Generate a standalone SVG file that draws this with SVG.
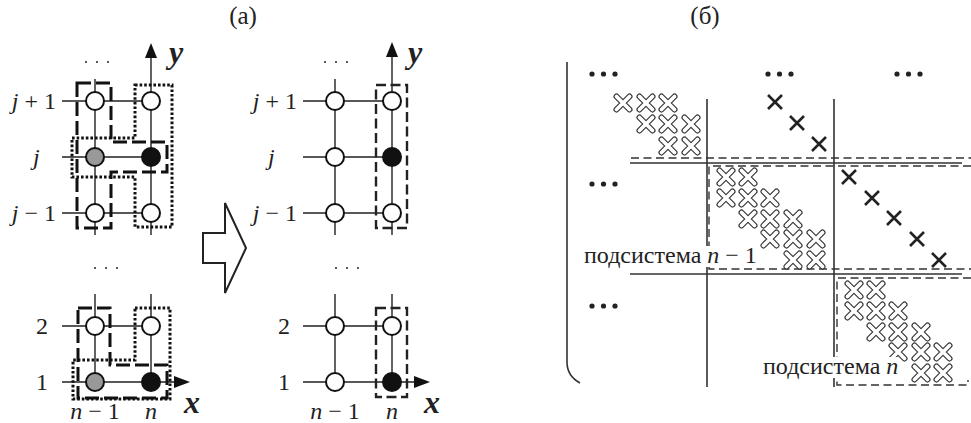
<svg xmlns="http://www.w3.org/2000/svg" xmlns:xlink="http://www.w3.org/1999/xlink" width="971" height="423" viewBox="0 0 971 423">
<style>
text{font-family:"Liberation Serif","Times New Roman",serif;fill:#222}
.lbl{font-size:24px}
.ttl{font-size:25px}
.ax{font-size:32px;font-weight:bold;font-style:italic}
.it{font-style:italic}
.g{stroke:#222;stroke-width:1.4;fill:none}
.nd{stroke:#111;stroke-width:2;fill:#fff}
.gray{fill:#999}
.blk{fill:#111}
.dash{fill:none;stroke:#111;stroke-width:3;stroke-dasharray:14 5}
.dot{fill:none;stroke:#111;stroke-width:3;stroke-dasharray:2.6 2}
.dash2{fill:none;stroke:#222;stroke-width:2.4;stroke-dasharray:10 4.5}
.m{stroke:#333;stroke-width:1.6;fill:none}
.md{stroke:#333;stroke-width:1.4;fill:none;stroke-dasharray:8 4.5}
.bg{fill:#fff}
</style>
<defs>
<g id="ox"><path d="M-6.5,-6.5L6.5,6.5M6.5,-6.5L-6.5,6.5" stroke="#333" stroke-width="6" stroke-linecap="round" fill="none"/><path d="M-6.5,-6.5L6.5,6.5M6.5,-6.5L-6.5,6.5" stroke="#fff" stroke-width="3.8" stroke-linecap="round" fill="none"/></g>
<g id="sx"><path d="M-7,-7L7,7M7,-7L-7,7" stroke="#222" stroke-width="2.6" fill="none"/></g>
<g id="dots3"><circle cx="0" cy="0" r="1"/><circle cx="11" cy="0" r="1"/><circle cx="22" cy="0" r="1"/></g>
<g id="bdots"><circle cx="0" cy="0" r="2.6"/><circle cx="11.5" cy="0" r="2.6"/><circle cx="23" cy="0" r="2.6"/></g>
</defs>

<text class="ttl" x="243" y="24" text-anchor="middle">(a)</text>
<text class="ttl" x="705" y="24" text-anchor="middle">(б)</text>

<!-- connectors (grid lines and axes) -->
<g id="connectors">
  <!-- left grid -->
  <path class="g" d="M95,79V235M151,58V235M62,101H151M62,157H151M62,213H151"/>
  <path class="g" d="M95,294V382M151,294V382M62,326H151M62,382H175"/>
  <path d="M151,43L145,58H157Z" fill="#111"/>
  <path d="M190,382L174,376V388Z" fill="#111"/>
  <!-- right grid -->
  <path class="g" d="M335,79V235M392,57V235M303,101H392M303,157H392M303,213H392"/>
  <path class="g" d="M335,294V382M392,294V382M303,326H392M303,382H415"/>
  <path d="M392,42L386,57H398Z" fill="#111"/>
  <path d="M430,382L414,376V388Z" fill="#111"/>
  <!-- transformation arrow -->
  <path d="M203,233H225V203L246,248L225,293V263H203Z" fill="#fff" stroke="#222" stroke-width="2"/>
</g>

<!-- grouping boxes -->
<g id="boxes-left">
  <path class="dash" d="M77,83H111V142H167V172H111V228H77Z"/>
  <path class="dot" d="M135,85H172V227H135V177H72V138H135Z"/>
  <path class="dash" d="M78,308H110V365H167V398H78Z"/>
  <path class="dot" d="M135,308H170V399H73V360H135Z"/>
</g>
<g id="boxes-right">
  <rect class="dash2" x="376" y="85" width="31" height="143"/>
  <rect class="dash2" x="376" y="308" width="31" height="89"/>
</g>

<!-- nodes left -->
<g id="nodes-left">
  <circle id="L-n1-j1" class="nd" cx="95" cy="101" r="9"/>
  <circle id="L-n-j1" class="nd" cx="151" cy="101" r="9"/>
  <circle id="L-n1-j" class="nd gray" cx="95" cy="157" r="9"/>
  <circle id="L-n-j" class="nd blk" cx="151" cy="157" r="9"/>
  <circle id="L-n1-jm1" class="nd" cx="95" cy="213" r="9"/>
  <circle id="L-n-jm1" class="nd" cx="151" cy="213" r="9"/>
  <circle id="L-n1-2" class="nd" cx="95" cy="326" r="9"/>
  <circle id="L-n-2" class="nd" cx="151" cy="326" r="9"/>
  <circle id="L-n1-1" class="nd gray" cx="95" cy="382" r="9"/>
  <circle id="L-n-1" class="nd blk" cx="151" cy="382" r="9"/>
</g>
<g id="nodes-right">
  <circle id="R-n1-j1" class="nd" cx="335" cy="101" r="9"/>
  <circle id="R-n-j1" class="nd" cx="392" cy="101" r="9"/>
  <circle id="R-n1-j" class="nd" cx="335" cy="157" r="9"/>
  <circle id="R-n-j" class="nd blk" cx="392" cy="157" r="9"/>
  <circle id="R-n1-jm1" class="nd" cx="335" cy="213" r="9"/>
  <circle id="R-n-jm1" class="nd" cx="392" cy="213" r="9"/>
  <circle id="R-n1-2" class="nd" cx="335" cy="326" r="9"/>
  <circle id="R-n-2" class="nd" cx="392" cy="326" r="9"/>
  <circle id="R-n1-1" class="nd" cx="335" cy="382" r="9"/>
  <circle id="R-n-1" class="nd blk" cx="392" cy="382" r="9"/>
</g>

<!-- labels panel a -->
<g id="labels-a" fill="#222">
  <use xlink:href="#dots3" x="86" y="62"/>
  <use xlink:href="#dots3" x="95" y="268"/>
  <use xlink:href="#dots3" x="325" y="62"/>
  <use xlink:href="#dots3" x="336" y="268"/>
  <text class="lbl" x="56" y="109" text-anchor="end"><tspan class="it">j</tspan> + 1</text>
  <text class="lbl" x="33" y="165"><tspan class="it">j</tspan></text>
  <text class="lbl" x="56" y="221" text-anchor="end"><tspan class="it">j</tspan> − 1</text>
  <text class="lbl" x="48" y="334" text-anchor="end">2</text>
  <text class="lbl" x="48" y="390" text-anchor="end">1</text>
  <text class="lbl" x="95" y="419" text-anchor="middle"><tspan class="it">n</tspan> − 1</text>
  <text class="lbl it" x="151" y="419" text-anchor="middle">n</text>
  <text class="ax" x="169" y="63">y</text>
  <text class="ax" x="184" y="413">x</text>

  <text class="lbl" x="297" y="109" text-anchor="end"><tspan class="it">j</tspan> + 1</text>
  <text class="lbl" x="268" y="165"><tspan class="it">j</tspan></text>
  <text class="lbl" x="297" y="221" text-anchor="end"><tspan class="it">j</tspan> − 1</text>
  <text class="lbl" x="290" y="334" text-anchor="end">2</text>
  <text class="lbl" x="290" y="390" text-anchor="end">1</text>
  <text class="lbl" x="335" y="419" text-anchor="middle"><tspan class="it">n</tspan> − 1</text>
  <text class="lbl it" x="392" y="419" text-anchor="middle">n</text>
  <text class="ax" x="408" y="63">y</text>
  <text class="ax" x="424" y="413">x</text>
</g>

<!-- panel b: matrix -->
<g id="matrix">
  <path class="m" d="M567,62V362Q567,376 580,383" stroke-width="2"/>
  <path class="m" d="M707,99V387M834,99V387M630,163H962M630,274H962"/>
  <path class="md" d="M631,158H971"/>
  <path class="md" d="M971,166H709V269H971"/>
  <path class="md" d="M971,278H837V385H968V380"/>
  <g fill="#222">
    <use xlink:href="#bdots" x="592" y="74"/>
    <use xlink:href="#bdots" x="768" y="74"/>
    <use xlink:href="#bdots" x="897" y="74"/>
    <use xlink:href="#bdots" x="592" y="184"/>
    <use xlink:href="#bdots" x="592" y="306"/>
  </g>
  <g id="block-top">
    <use xlink:href="#ox" x="623" y="103"/><use xlink:href="#ox" x="646" y="103"/><use xlink:href="#ox" x="668" y="103"/>
    <use xlink:href="#ox" x="646" y="124"/><use xlink:href="#ox" x="668" y="124"/><use xlink:href="#ox" x="691" y="124"/>
    <use xlink:href="#ox" x="668" y="146"/><use xlink:href="#ox" x="691" y="146"/>
  </g>
  <g id="coupling-top">
    <use xlink:href="#sx" x="775" y="102"/><use xlink:href="#sx" x="797" y="123"/><use xlink:href="#sx" x="819" y="144"/>
  </g>
  <g id="coupling-mid">
    <use xlink:href="#sx" x="849" y="177"/><use xlink:href="#sx" x="872" y="198"/><use xlink:href="#sx" x="894" y="218"/><use xlink:href="#sx" x="917" y="239"/><use xlink:href="#sx" x="939" y="260"/>
  </g>
  <g id="subsystem-n-1">
    <use xlink:href="#ox" x="726" y="177"/><use xlink:href="#ox" x="748" y="177"/>
    <use xlink:href="#ox" x="726" y="198"/><use xlink:href="#ox" x="748" y="198"/><use xlink:href="#ox" x="770" y="198"/>
    <use xlink:href="#ox" x="748" y="219"/><use xlink:href="#ox" x="770" y="219"/><use xlink:href="#ox" x="793" y="219"/>
    <use xlink:href="#ox" x="770" y="239"/><use xlink:href="#ox" x="793" y="239"/><use xlink:href="#ox" x="816" y="239"/>
    <use xlink:href="#ox" x="793" y="260"/><use xlink:href="#ox" x="816" y="260"/>
  </g>
  <g id="subsystem-n">
    <use xlink:href="#ox" x="854" y="290"/><use xlink:href="#ox" x="876" y="290"/>
    <use xlink:href="#ox" x="854" y="311"/><use xlink:href="#ox" x="876" y="311"/><use xlink:href="#ox" x="898" y="311"/>
    <use xlink:href="#ox" x="876" y="332"/><use xlink:href="#ox" x="898" y="332"/><use xlink:href="#ox" x="921" y="332"/>
    <use xlink:href="#ox" x="898" y="352"/><use xlink:href="#ox" x="921" y="352"/><use xlink:href="#ox" x="943" y="352"/>
    <use xlink:href="#ox" x="921" y="373"/><use xlink:href="#ox" x="943" y="373"/>
  </g>
  <g id="label-n-1">
    <rect class="bg" x="582" y="246" width="174" height="21"/>
    <text class="lbl" x="584" y="263">подсистема <tspan class="it">n</tspan> − 1</text>
  </g>
  <g id="label-n">
    <rect class="bg" x="761" y="357" width="138" height="21"/>
    <text class="lbl" x="763" y="374">подсистема <tspan class="it">n</tspan></text>
  </g>
</g>
</svg>
